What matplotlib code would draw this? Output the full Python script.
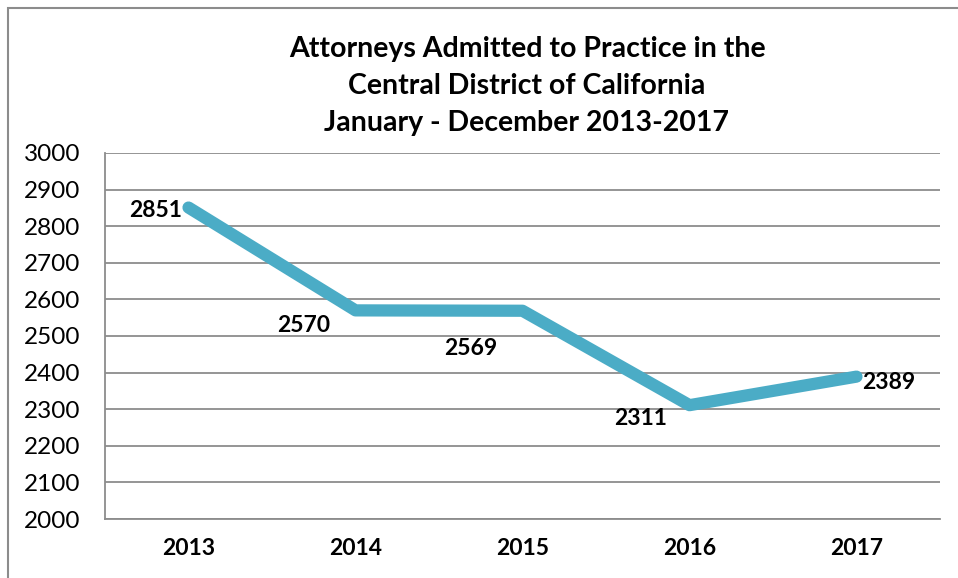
import matplotlib
matplotlib.use("Agg")
import matplotlib.pyplot as plt
from matplotlib.patches import Rectangle

years = ["2013", "2014", "2015", "2016", "2017"]
attorneys = [2851, 2570, 2569, 2311, 2389]
label_offsets_px = [(-7, -3), (-52, -15), (-52, -38), (-49, -13), (6, -6)]
label_ha = ["right", "center", "center", "center", "left"]

plt.rcParams['font.family'] = ['Lato', 'DejaVu Sans']

fig = plt.figure(figsize=(9.58, 5.78), dpi=100)
fig.patch.set_facecolor("white")
ax = fig.add_axes([105/958, 1-519/578, (940-105)/958, (519-153)/578])

x = list(range(len(years)))
ax.plot(x, attorneys, color="#4BACC6", lw=8.8, solid_capstyle="round", solid_joinstyle="round", zorder=3)

for xi, v, off, ha in zip(x, attorneys, label_offsets_px, label_ha):
    ax.annotate(str(v), (xi, v), xytext=off, textcoords="offset pixels",
                ha=ha, va="center", fontsize=16.5, fontweight="bold", color="black", zorder=4)

ax.set_xlim(-0.5, len(years) - 0.5)
ax.set_ylim(2000, 3000)
ax.set_yticks(range(2000, 3001, 100))
ax.set_xticks(x)
ax.set_xticklabels(years, fontweight="bold", fontsize=16.5)
ax.tick_params(axis="both", length=0)
ax.tick_params(axis="y", labelsize=17.5, pad=18)
ax.tick_params(axis="x", pad=14)
ax.grid(axis="y", color="#8C8C8C", lw=1.3)
ax.set_axisbelow(True)
for s in ["top", "right"]:
    ax.spines[s].set_visible(False)
for s in ["left", "bottom"]:
    ax.spines[s].set_color("#8C8C8C")
    ax.spines[s].set_linewidth(1.3)

fig.text(527/958, 1-86/578,
         "Attorneys Admitted to Practice in the\nCentral District of California\nJanuary - December 2013-2017",
         ha="center", va="center", fontsize=20.5, fontweight="bold", linespacing=1.52)

fig.patches.append(Rectangle((8/958, -0.2), 2.0, 1.2 - 8/578, transform=fig.transFigure,
                             fill=False, edgecolor="#8C8C8C", lw=1.5, figure=fig))

fig.savefig("out.png", dpi=100)
